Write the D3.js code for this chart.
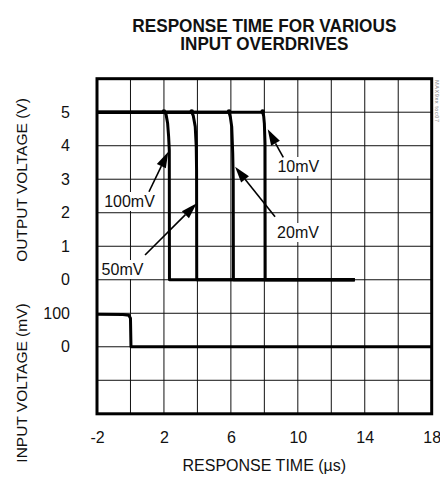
<!DOCTYPE html>
<html><head><meta charset="utf-8">
<script src="https://cdn.jsdelivr.net/npm/d3@7"></script>
<style>
body{margin:0;background:#fff}
svg{display:block}
text{font-family:"Liberation Sans",Arial,Helvetica,sans-serif;fill:#111}
</style>
</head><body><svg id="c" width="440" height="486"></svg>
<script>
// ---------------- data ----------------
const titleLines = ["RESPONSE TIME FOR VARIOUS", "INPUT OVERDRIVES"];
const xTicks = [-2, 2, 6, 10, 14, 18];
const outTicks = [0, 1, 2, 3, 4, 5];
const inTicks = [0, 100];
const xLabel = "RESPONSE TIME (µs)";
const outLabel = "OUTPUT VOLTAGE (V)";
const inLabel = "INPUT VOLTAGE (mV)";
const figCode = "MAX9xx toc07";

const overdrives = ["100mV", "50mV", "20mV", "10mV"];
// output traces: [time µs, volts]
const out100 = [[-2,5],[2.0,5],[2.12,4.95],[2.22,4.67],[2.28,4.27],[2.32,3.87],[2.33,0],[13.4,0]];
const out50  = [[-2,5],[3.66,5],[3.75,4.9],[3.87,4.57],[3.93,3.97],[3.95,3.27],[3.96,0],[13.4,0]];
const out20  = [[-2,5],[5.89,5],[5.97,4.85],[6.05,4.57],[6.11,3.77],[6.14,3.0],[6.15,0],[13.4,0]];
const out10  = [[-2,5],[7.9,5],[7.96,4.88],[8.0,4.67],[8.04,4.07],[8.05,0],[13.4,0]];
// input step: [time µs, mV]
const inputTrace = [[-2,97],[-0.45,96],[-0.1,94],[0.0,85],[0.03,0],[18,0]];
// arrow tip on each trace: [time µs, volts]
const arrowTips = [[2.26,3.82],[3.96,2.28],[6.25,3.37],[8.20,4.49]];

// ---------------- layout ----------------
const svg = d3.select("#c");
const L = 97, R = 431.7, T = 78.7, B = 413.8;
const x = d3.scaleLinear().domain([-2, 18]).range([L, R]);
const yOut = d3.scaleLinear().domain([-4, 6]).range([B, T]);
const yIn = d3.scaleLinear().domain([-200, 800]).range([B, T]);

// grid
const grid = svg.append("g").attr("stroke", "#111").attr("stroke-width", 1);
grid.selectAll("line.v").data(d3.range(0, 17, 2)).join("line")
  .attr("x1", d => x(d)).attr("x2", d => x(d)).attr("y1", T).attr("y2", B);
grid.selectAll("line.h").data(d3.range(-3, 6, 1)).join("line")
  .attr("y1", d => yOut(d)).attr("y2", d => yOut(d)).attr("x1", L).attr("x2", R);

// traces
const lineOut = d3.line().x(d => x(d[0])).y(d => yOut(d[1]));
const lineIn = d3.line().x(d => x(d[0])).y(d => yIn(d[1]));
const traces = [out100, out50, out20, out10];
const tg = svg.append("g");
tg.selectAll("path.o").data(traces).join("path")
  .attr("d", lineOut).attr("fill", "none").attr("stroke", "#000")
  .attr("stroke-width", 3).attr("stroke-linejoin", "round");
tg.selectAll("circle").data(traces).join("circle")
  .attr("cx", d => x(d[1][0])).attr("cy", d => yOut(d[1][1]) - 0.6)
  .attr("r", 2.3).attr("fill", "#000");
tg.append("path").attr("d", lineIn(inputTrace)).attr("fill", "none")
  .attr("stroke", "#000").attr("stroke-width", 3).attr("stroke-linejoin", "round");

// frame
svg.append("rect").attr("x", L).attr("y", T).attr("width", R - L).attr("height", B - T)
  .attr("fill", "none").attr("stroke", "#000").attr("stroke-width", 3);

// annotations (layout offsets in px relative to tip; text anchor position)
const annLayout = [
  {tail: [-19.3, 40], text: [129.5, 207]},
  {tail: [-51.7, 51.7], text: [122.5, 275]},
  {tail: [40, 50], text: [298, 238]},
  {tail: [15.6, 28], text: [298.3, 172]}
];
const ag = svg.append("g");
overdrives.forEach((lab, i) => {
  const tip = [x(arrowTips[i][0]), yOut(arrowTips[i][1])];
  const tail = [tip[0] + annLayout[i].tail[0], tip[1] + annLayout[i].tail[1]];
  // label with white box
  const tx = ag.append("text").attr("x", annLayout[i].text[0]).attr("y", annLayout[i].text[1])
    .attr("text-anchor", "middle").attr("font-size", 16).text(lab);
  const bb = tx.node().getBBox();
  ag.insert("rect", "text").attr("x", bb.x - 2).attr("y", bb.y - 1)
    .attr("width", bb.width + 4).attr("height", bb.height + 2).attr("fill", "#fff");
  // arrow
  const ang = Math.atan2(tip[1] - tail[1], tip[0] - tail[0]);
  const hl = 16, hw = 5;
  const bx = tip[0] - hl * Math.cos(ang), by = tip[1] - hl * Math.sin(ang);
  ag.append("line").attr("x1", tail[0]).attr("y1", tail[1]).attr("x2", bx).attr("y2", by)
    .attr("stroke", "#000").attr("stroke-width", 1.6);
  const p1 = [bx + hw * Math.sin(ang), by - hw * Math.cos(ang)];
  const p2 = [bx - hw * Math.sin(ang), by + hw * Math.cos(ang)];
  ag.append("path").attr("d", `M${tip}L${p1}L${p2}Z`).attr("fill", "#000");
});

// axes
const ax = svg.append("g").attr("transform", `translate(0,${B})`)
  .call(d3.axisBottom(x).tickValues(xTicks).tickSize(0).tickPadding(17.5).tickFormat(d3.format("d")));
const ayo = svg.append("g").attr("transform", `translate(${L},0)`)
  .call(d3.axisLeft(yOut).tickValues(outTicks).tickSize(0).tickPadding(27));
const ayi = svg.append("g").attr("transform", `translate(${L},0)`)
  .call(d3.axisLeft(yIn).tickValues(inTicks).tickSize(0).tickPadding(27));
[ax, ayo, ayi].forEach(g => {
  g.select(".domain").remove();
  g.selectAll("text").attr("font-size", 16).attr("font-family", null).attr("fill", "#111");
  g.attr("font-family", null).attr("font-size", null);
});
ax.selectAll("text").text(d => d < 0 ? "-" + Math.abs(d) : d);

// titles
svg.selectAll("text.title").data(titleLines).join("text").attr("class", "title")
  .attr("x", (L + R) / 2).attr("y", (d, i) => 31.7 + i * 18.3)
  .attr("text-anchor", "middle").attr("font-size", 18).attr("font-weight", "bold")
  .attr("textLength", (d, i) => i === 0 ? 264 : 168).attr("lengthAdjust", "spacingAndGlyphs")
  .text(d => d);

svg.append("text").attr("x", (L + R) / 2).attr("y", 471).attr("text-anchor", "middle")
  .attr("font-size", 16).text(xLabel);
svg.append("text").attr("transform", `translate(27,180) rotate(-90)`)
  .attr("text-anchor", "middle").attr("font-size", 15.5).text(outLabel);
svg.append("text").attr("transform", `translate(27,383) rotate(-90)`)
  .attr("text-anchor", "middle").attr("font-size", 15.5).text(inLabel);
svg.append("text").attr("transform", `translate(435,80) rotate(90)`)
  .attr("font-size", 5.5).style("fill", "#888").attr("letter-spacing", 0.6).text(figCode);
</script>
</body></html>
